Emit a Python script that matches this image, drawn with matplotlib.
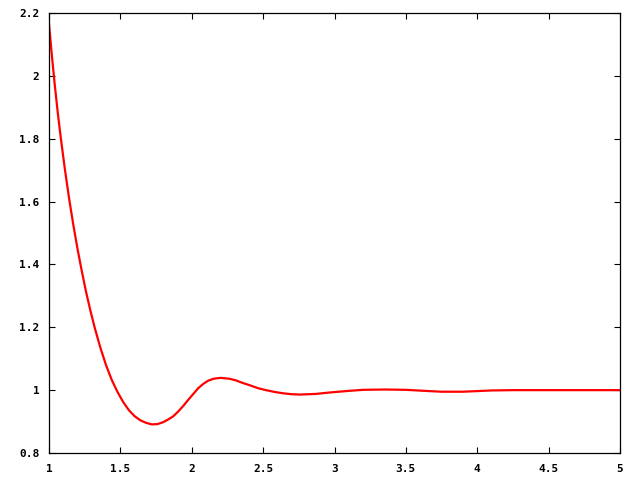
import matplotlib
matplotlib.use("Agg")
import matplotlib.pyplot as plt

# values
x = [1.000, 1.020, 1.040, 1.060, 1.080, 1.110, 1.140, 1.170, 1.200, 1.230,
     1.260, 1.290, 1.320, 1.360, 1.400, 1.440, 1.480, 1.520, 1.560, 1.600,
     1.640, 1.680, 1.720, 1.760, 1.800, 1.840, 1.871, 1.905, 1.941, 1.975,
     2.011, 2.045, 2.081, 2.115, 2.151, 2.180, 2.205, 2.268, 2.310, 2.350,
     2.410, 2.466, 2.520, 2.583, 2.640, 2.700, 2.760, 2.816, 2.870, 2.933,
     3.003, 3.110, 3.200, 3.350, 3.500, 3.620, 3.750, 3.900, 4.000, 4.100,
     4.250, 4.600, 5.000]
y = [2.165, 2.065, 1.973, 1.889, 1.812, 1.707, 1.612, 1.527, 1.449, 1.378,
     1.312, 1.253, 1.199, 1.135, 1.079, 1.032, 0.994, 0.962, 0.936, 0.917,
     0.904, 0.896, 0.891, 0.892, 0.898, 0.908, 0.917, 0.932, 0.950, 0.969,
     0.988, 1.006, 1.020, 1.030, 1.036, 1.038, 1.039, 1.036, 1.031, 1.024,
     1.015, 1.006, 1.000, 0.994, 0.990, 0.987, 0.986, 0.987, 0.988, 0.991,
     0.994, 0.998, 1.001, 1.002, 1.001, 0.998, 0.995, 0.995, 0.997, 0.999,
     1.000, 1.000, 1.000]

xticks = [1, 1.5, 2, 2.5, 3, 3.5, 4, 4.5, 5]
xlabels = ["1", "1.5", "2", "2.5", "3", "3.5", "4", "4.5", "5"]
yticks = [0.8, 1, 1.2, 1.4, 1.6, 1.8, 2, 2.2]
ylabels = ["0.8", "1", "1.2", "1.4", "1.6", "1.8", "2", "2.2"]

fig = plt.figure(figsize=(6.4, 4.8), dpi=100)
ax = fig.add_axes([49 / 640, 27 / 480, 571 / 640, 440 / 480])

ax.plot(x, y, color="#ff0000", linewidth=1.6)

ax.set_xlim(1, 5)
ax.set_ylim(0.8, 2.2)
ax.set_xticks(xticks)
ax.set_xticklabels(xlabels)
ax.set_yticks(yticks)
ax.set_yticklabels(ylabels)

ax.tick_params(direction="in", length=4, width=0.8, top=True, right=True,
               labelsize=8)
ax.tick_params(axis="x", pad=8)
ax.tick_params(axis="y", pad=7)
for lab in ax.get_xticklabels() + ax.get_yticklabels():
    lab.set_fontfamily("DejaVu Sans Mono")
    lab.set_fontweight("bold")
for sp in ax.spines.values():
    sp.set_linewidth(0.9)

fig.savefig("out.png", dpi=100)
